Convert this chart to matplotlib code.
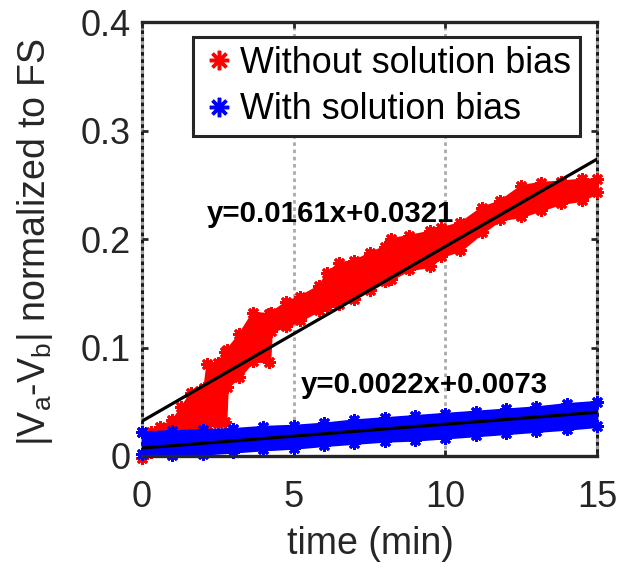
import matplotlib
matplotlib.use('Agg')
import matplotlib.pyplot as plt
from matplotlib.lines import Line2D

plt.rcParams['font.family'] = ['Liberation Sans', 'DejaVu Sans']
plt.rcParams['mathtext.fontset'] = 'custom'
plt.rcParams['mathtext.rm'] = 'Liberation Sans'
plt.rcParams['mathtext.it'] = 'Liberation Sans:italic'

# envelope of the drift readings (time in min, |Va-Vb| / FS)
red_t = [0.0, 0.3, 0.6, 1.0, 1.3, 1.6, 1.9, 2.05, 2.15, 2.5, 2.75, 2.8, 3.2, 3.65,
         4.2, 4.25, 4.75, 5.2, 5.85, 6.1, 6.5, 7.0, 7.5, 8.0, 8.2, 8.8, 9.5, 9.85,
         10.5, 11.2, 11.8, 12.5, 13.15, 13.8, 14.5, 15.0]
red_hi = [0.022, 0.022, 0.027, 0.033, 0.045, 0.058, 0.060, 0.063, 0.085, 0.086,
          0.096, 0.098, 0.112, 0.132, 0.131, 0.132, 0.142, 0.147, 0.157, 0.169,
          0.178, 0.180, 0.187, 0.193, 0.200, 0.203, 0.207, 0.210, 0.215, 0.229,
          0.235, 0.249, 0.252, 0.253, 0.255, 0.255]
red_lo = [-0.002, 0.004, 0.010, 0.016, 0.020, 0.023, 0.025, 0.027, 0.029, 0.030,
          0.031, 0.064, 0.073, 0.088, 0.087, 0.115, 0.120, 0.125, 0.135, 0.138,
          0.140, 0.145, 0.153, 0.161, 0.163, 0.172, 0.175, 0.184, 0.190, 0.206,
          0.218, 0.221, 0.227, 0.233, 0.236, 0.243]

blue_t = [0, 1, 2, 3, 4, 5, 6, 7, 8, 9, 10, 11, 12, 13, 14, 15]
blue_hi = [0.022, 0.023, 0.024, 0.025, 0.027, 0.028, 0.030, 0.033, 0.035, 0.037,
           0.039, 0.041, 0.043, 0.045, 0.048, 0.050]
blue_lo = [0.002, 0.001, 0.002, 0.004, 0.006, 0.0075, 0.010, 0.012, 0.014, 0.015,
           0.017, 0.019, 0.021, 0.023, 0.025, 0.0275]

# linear fits
fit_red = (0.0161, 0.0321)
fit_blue = (0.0022, 0.0073)
fit_x = [0, 15]

labels = ['Without solution bias', 'With solution bias']
colors = ['#ff0000', '#0000ff']
AST = (8, 2, 0)   # asterisk marker
DARK = '#262626'

fig = plt.figure(figsize=(6.18, 5.69), dpi=100)
ax = fig.add_axes([0.2298, 0.1986, 0.7362, 0.7627])

series = [(red_t, red_lo, red_hi), (blue_t, blue_lo, blue_hi)]
for (t, lo, hi), c in zip(series, colors):
    ax.fill_between(t, lo, hi, color=c, lw=2, zorder=3)
    ax.plot(t, hi, ls='none', marker=AST, ms=9, mew=2, color=c, zorder=3, clip_on=False)
    ax.plot(t, lo, ls='none', marker=AST, ms=9, mew=2, color=c, zorder=3, clip_on=False)

for (m, b) in [fit_red, fit_blue]:
    ax.plot(fit_x, [m * x + b for x in fit_x], color='k', lw=2.3, zorder=5)

ax.text(2.12, 0.216, f'y={fit_red[0]}x+{fit_red[1]}', fontsize=21.2,
        fontweight='bold', zorder=6)
ax.text(5.22, 0.058, f'y={fit_blue[0]}x+{fit_blue[1]}', fontsize=21.2,
        fontweight='bold', zorder=6)

ax.set_xlim(0, 15)
ax.set_ylim(0, 0.4)
ax.set_xticks([0, 5, 10, 15])
ax.set_yticks([0, 0.1, 0.2, 0.3, 0.4])
ax.set_yticklabels(['0', '0.1', '0.2', '0.3', '0.4'])

# vertical dotted grid, also over the left/right box edges
for x in [0, 5, 10, 15]:
    ax.axvline(x, color='#aaaaaa', lw=2, dashes=(1.3, 1.3), zorder=1.5, clip_on=False)

for s in ['left', 'right']:
    ax.spines[s].set_linewidth(2.2)
    ax.spines[s].set_color('#1a1a1a')
    ax.spines[s].set_zorder(1)
for s in ['top', 'bottom']:
    ax.spines[s].set_linewidth(2.4)
    ax.spines[s].set_color(DARK)
    ax.spines[s].set_zorder(4)

ax.tick_params(direction='in', length=4, width=2, color=DARK, labelcolor=DARK,
               labelsize=26, top=True, right=True)
ax.tick_params(axis='x', pad=17)
ax.tick_params(axis='y', pad=8)

ax.set_xlabel('time (min)', fontsize=27, color=DARK, va='center')
ax.xaxis.set_label_coords(0.501, -0.203)
ax.set_ylabel(r'|V$_{\mathrm{a}}$-V$_{\mathrm{b}}$| normalized to FS', fontsize=27,
              color=DARK, va='center')
ax.yaxis.set_label_coords(-0.235, 0.493)

handles = [Line2D([], [], ls='none', marker=AST, ms=14, mew=2.5, color=c) for c in colors]
leg = ax.legend(handles, labels, loc='upper right', bbox_to_anchor=(580 / 618, 1 - 37 / 569),
                bbox_transform=fig.transFigure, borderaxespad=0, fontsize=25.8,
                fancybox=False, framealpha=1, edgecolor=DARK, borderpad=0.25,
                handlelength=0.95, handletextpad=0.11, labelspacing=0.31)
leg.get_frame().set_linewidth(2.2)
leg.set_zorder(7)

fig.savefig('out.png', dpi=100)
